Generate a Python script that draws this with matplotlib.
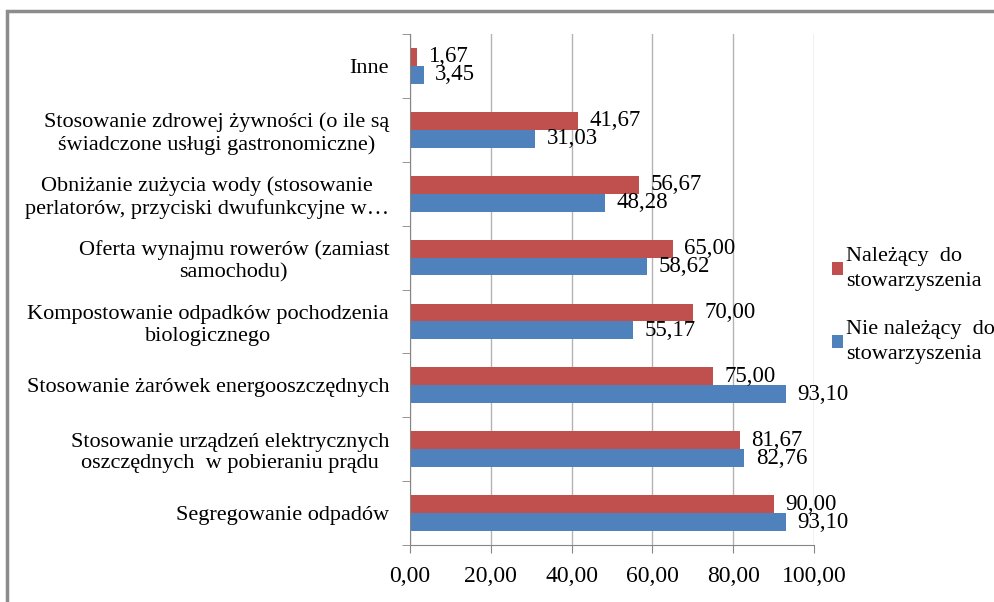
import matplotlib
matplotlib.use("Agg")
import matplotlib.pyplot as plt
from matplotlib.patches import Rectangle
import numpy as np

categories = [
    "Segregowanie odpadów",
    "Stosowanie urządzeń elektrycznych\noszczędnych  w pobieraniu prądu",
    "Stosowanie żarówek energooszczędnych",
    "Kompostowanie odpadków pochodzenia\nbiologicznego",
    "Oferta wynajmu rowerów (zamiast\nsamochodu)",
    "Obniżanie zużycia wody (stosowanie\nperlatorów, przyciski dwufunkcyjne w…",
    "Stosowanie zdrowej żywności (o ile są\nświadczone usługi gastronomiczne)",
    "Inne",
]
nalezacy = [90.00, 81.67, 75.00, 70.00, 65.00, 56.67, 41.67, 1.67]
nie_nalezacy = [93.10, 82.76, 93.10, 55.17, 58.62, 48.28, 31.03, 3.45]
series_names = ["Należący  do\nstowarzyszenia", "Nie należący  do\nstowarzyszenia"]
xticks = [0, 20, 40, 60, 80, 100]

plt.rcParams['font.family'] = ['Liberation Serif', 'DejaVu Serif']
RED = "#C0504D"
BLUE = "#4F81BD"

fig = plt.figure(figsize=(9.95, 6.02), dpi=100)
ax = fig.add_axes([410/995, 1-545/602, (814-410)/995, (545-34)/602])

y = np.arange(len(categories))
h = 0.28
b1 = ax.barh(y + h/2, nalezacy, height=h, color=RED, label=series_names[0])
b2 = ax.barh(y - h/2, nie_nalezacy, height=h, color=BLUE, label=series_names[1])

def fmt(v):
    return f"{v:.2f}".replace(".", ",")

for bars, vals in ((b1, nalezacy), (b2, nie_nalezacy)):
    for rect, v in zip(bars, vals):
        ax.text(v + 2.8, rect.get_y() + rect.get_height()/2, fmt(v),
                va="center", ha="left", fontsize=16.5)

ax.set_xlim(0, 100)
ax.set_ylim(-0.5, len(categories) - 0.5)
ax.set_xticks(xticks)
ax.set_xticklabels([fmt(v) for v in xticks], fontsize=17)
ax.set_yticks(y)
ax.set_yticklabels(categories, fontsize=16, ha="right", multialignment="center")
ax.tick_params(axis="y", length=0, pad=15)
ax.set_yticks(np.arange(-0.5, len(categories), 1), minor=True)
ax.tick_params(axis="y", which="minor", length=6, color="#868686", direction="out")
ax.tick_params(axis="x", length=6, color="#868686", direction="out", pad=9)
ax.grid(axis="x", color="#B3B3B3", linewidth=1)
ax.set_axisbelow(True)
for s in ["top", "right"]:
    ax.spines[s].set_visible(False)
ax.spines["left"].set_color("#868686")
ax.spines["bottom"].set_color("#868686")

leg = fig.legend(handles=[b1, b2], loc="upper left", bbox_to_anchor=(832/995, 1-247/602),
                 frameon=False, fontsize=16, handlelength=0.5, handleheight=0.5,
                 handletextpad=0.15, labelspacing=1.3, borderaxespad=0, borderpad=0)
for t in leg.get_texts():
    t.set_linespacing(1.45)

fig.patches.append(Rectangle((7/995, -0.01), 1.0, 1 - 11/602 + 0.01, transform=fig.transFigure,
                             fill=False, edgecolor="#8C8C8C", linewidth=2.5))

fig.savefig("out.png", dpi=100)
